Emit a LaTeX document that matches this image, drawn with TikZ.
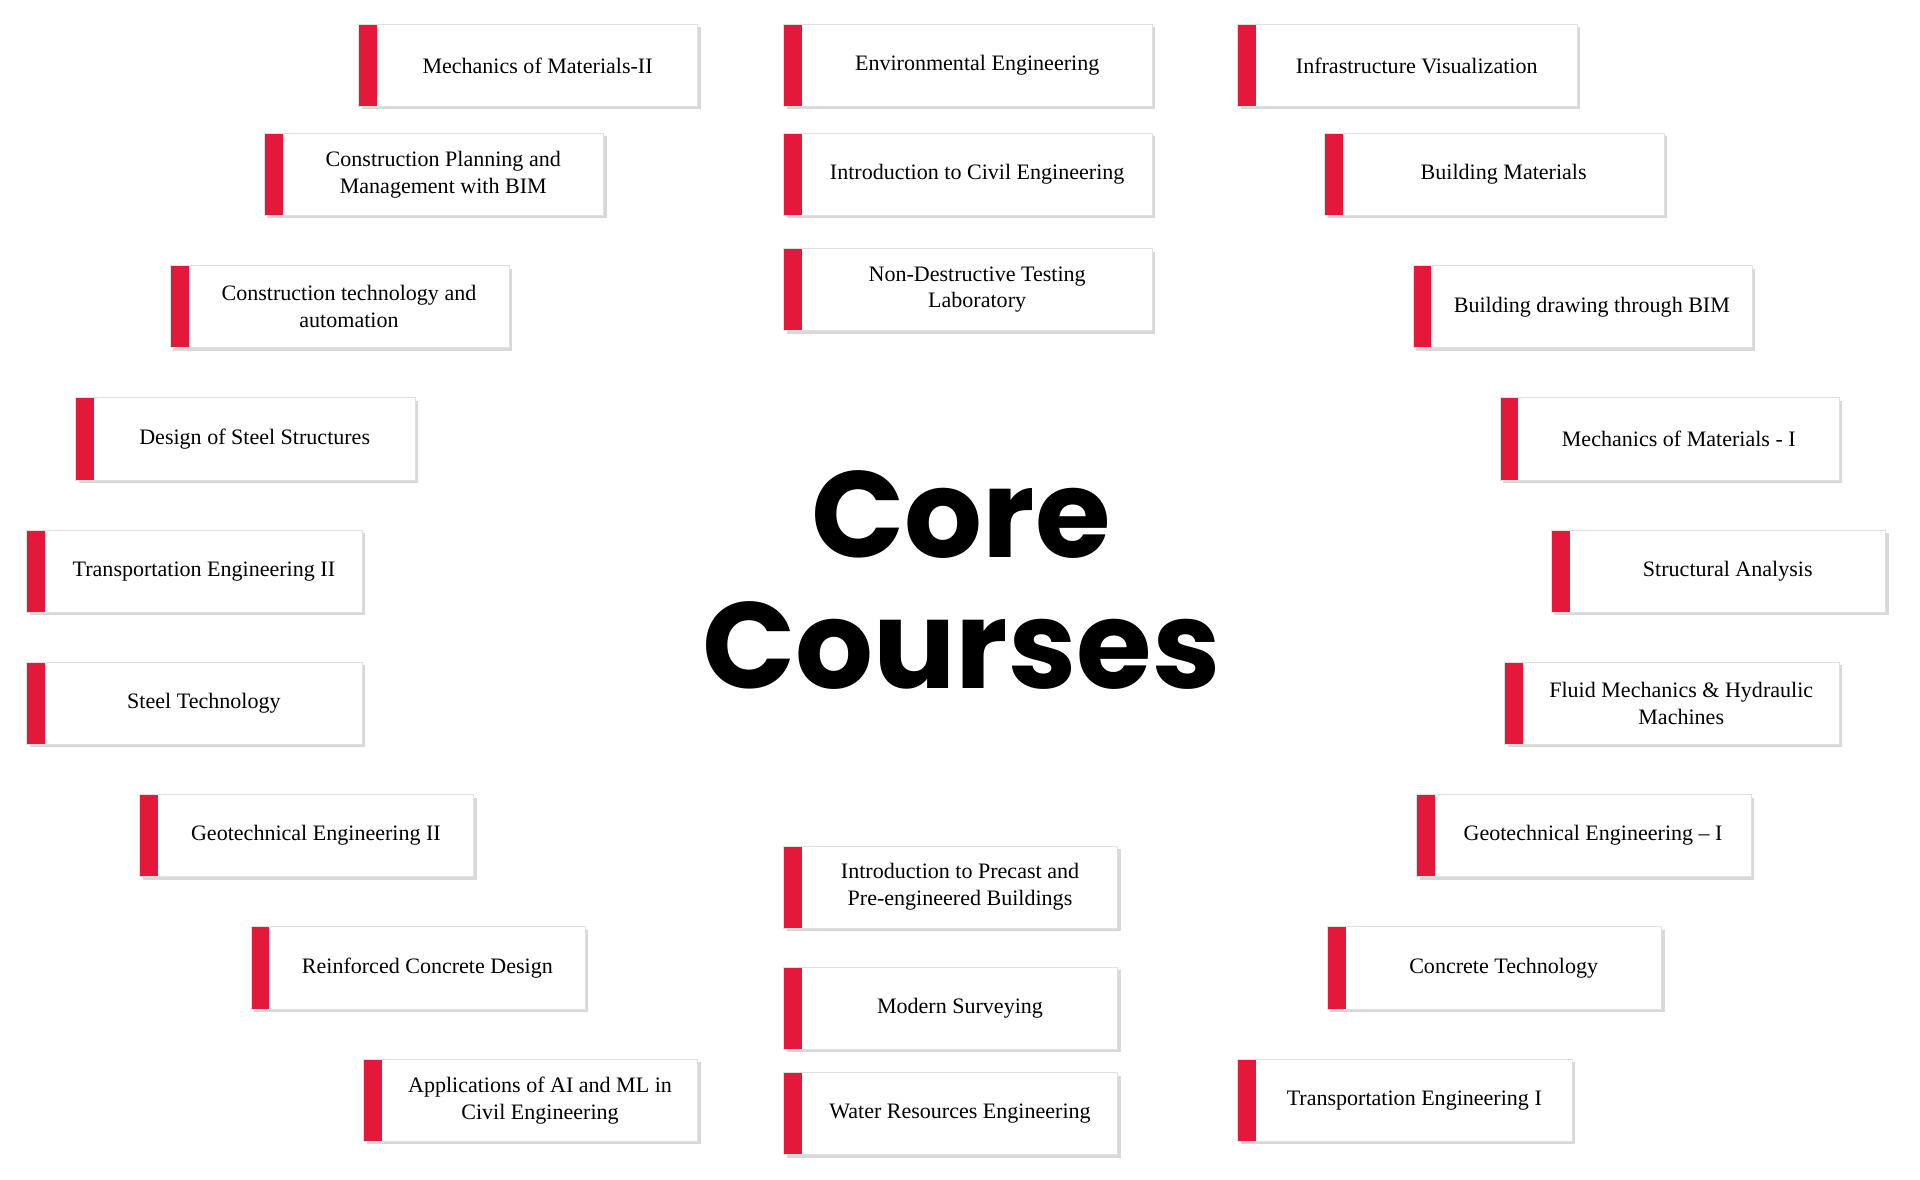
\documentclass[tikz,border=0pt]{standalone}
\usepackage{fontspec}
\setmainfont{Liberation Serif}
\newfontfamily\titlefont{Poppins}
\usetikzlibrary{shadows}
\definecolor{cred}{HTML}{E4183A}
\tikzset{cbox/.style={draw=black!12,line width=0.4pt,fill=white,inner sep=0pt,
  drop shadow={shadow xshift=1.2pt,shadow yshift=-1.2pt,opacity=0.25,fill=black!60},
  path picture={\fill[cred] (path picture bounding box.north west) rectangle ([xshift=7.5pt]path picture bounding box.south west);}},
  ctext/.style={align=center,font=\fontsize{9pt}{11pt}\selectfont,inner sep=0pt}}
\newcommand\cb[6]{\node[cbox,minimum width={(#4-#2)*0.5pt},minimum height={(#5-#3)*0.5pt}] (#1) at ({(#2+#4)/2},{(#3+#5)/2}) {};
\node[ctext] (#1t) at ([xshift=3.75pt]#1.center) {#6};}
\begin{document}
\begin{tikzpicture}[x=0.5pt,y=-0.5pt]
\useasboundingbox[fill=white] (0,0) rectangle (1568,963);
\cb{l1}{293}{20}{570}{87}{Mechanics of Materials-II}
\cb{l2}{216}{109}{493}{176}{Construction Planning and\\Management with BIM}
\cb{l3}{139}{217}{416}{284}{Construction technology and\\automation}
\cb{l4}{62}{325}{339}{392}{Design of Steel Structures}
\cb{l5}{22}{433}{296}{500}{Transportation Engineering II}
\cb{l6}{22}{541}{296}{608}{Steel Technology}
\cb{l7}{114}{649}{387}{716}{Geotechnical Engineering II}
\cb{l8}{205}{757}{478}{824}{Reinforced Concrete Design}
\cb{l9}{297}{865}{570}{932}{Applications of AI and ML in\\Civil Engineering}
\cb{c1}{640}{20}{941}{87}{Environmental Engineering}
\cb{c2}{640}{109}{941}{176}{Introduction to Civil Engineering}
\cb{c3}{640}{203}{941}{270}{Non-Destructive Testing\\Laboratory}
\cb{c4}{640}{691}{913}{758}{Introduction to Precast and\\Pre-engineered Buildings}
\cb{c5}{640}{790}{913}{857}{Modern Surveying}
\cb{c6}{640}{876}{913}{943}{Water Resources Engineering}
\cb{r1}{1011}{20}{1288}{87}{Infrastructure Visualization}
\cb{r2}{1082}{109}{1359}{176}{Building Materials}
\cb{r3}{1154}{217}{1431}{284}{Building drawing through BIM}
\cb{r4}{1225}{325}{1502}{392}{Mechanics of Materials - I}
\cb{r5}{1267}{433}{1540}{500}{Structural Analysis}
\cb{r6}{1229}{541}{1502}{608}{Fluid Mechanics \& Hydraulic\\Machines}
\cb{r7}{1157}{649}{1430}{716}{Geotechnical Engineering -- I}
\cb{r8}{1084}{757}{1357}{824}{Concrete Technology}
\cb{r9}{1011}{865}{1284}{932}{Transportation Engineering I}
\node[anchor=base,font=\titlefont\bfseries\fontsize{50pt}{54pt}\selectfont,inner sep=0pt] (core) at (785,455) {Core};
\node[anchor=base,font=\titlefont\bfseries\fontsize{50pt}{54pt}\selectfont,inner sep=0pt] (courses) at (785,562) {Courses};
\end{tikzpicture}
\end{document}
